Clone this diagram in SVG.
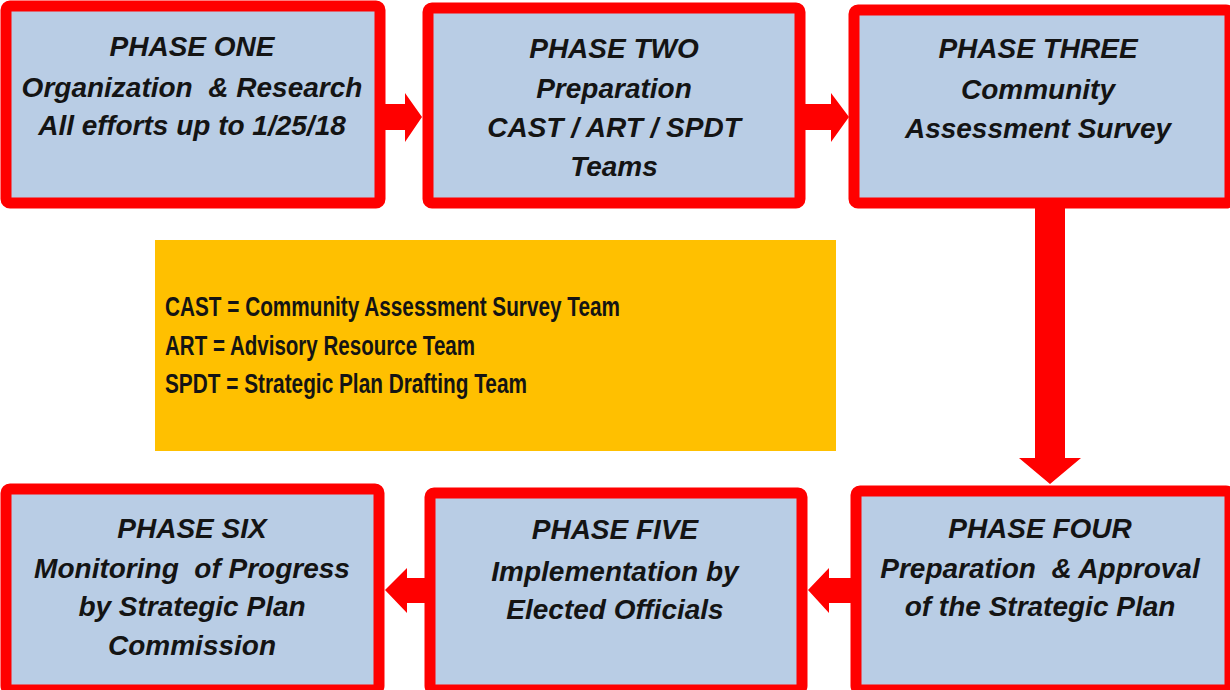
<svg xmlns="http://www.w3.org/2000/svg" width="1230" height="690" viewBox="0 0 1230 690">
<style>
.box{fill:#B9CDE5;stroke:#FF0000;stroke-width:11;}
.t{font-family:"Liberation Sans",Arial,sans-serif;font-weight:bold;font-style:italic;font-size:28px;fill:#141414;text-anchor:middle;}
.leg{font-family:"Liberation Sans",Arial,sans-serif;font-weight:bold;font-size:27px;fill:#141414;}
.arr{fill:#FF0000;}
</style>
<rect width="1230" height="690" fill="#FFFFFF"/>
<g id="connectors">
<polygon class="arr" points="383,104 405,104 405,93 422,117 405,142 405,130 383,130"/>
<polygon class="arr" points="803,104 831,104 831,93 849,117 831,142 831,130 803,130"/>
<polygon class="arr" points="1035,205 1065,205 1065,458 1081,458 1050,484 1019,458 1035,458"/>
<polygon class="arr" points="852,578 829,578 829,568 808,590 829,613 829,603 852,603"/>
<polygon class="arr" points="426,578 407,578 407,568 385,590 407,613 407,603 426,603"/>
</g>
<g id="legend">
<rect x="155" y="240" width="681" height="211" fill="#FFC000"/>
<text class="leg" x="165" y="316" textLength="455" lengthAdjust="spacingAndGlyphs">CAST = Community Assessment Survey Team</text>
<text class="leg" x="165" y="355" textLength="310" lengthAdjust="spacingAndGlyphs">ART = Advisory Resource Team</text>
<text class="leg" x="165" y="393" textLength="362" lengthAdjust="spacingAndGlyphs">SPDT = Strategic Plan Drafting Team</text>
</g>
<g id="phase1">
<rect class="box" x="6" y="6" width="374" height="197" rx="4"/>
<text class="t" x="192" y="56">PHASE ONE</text>
<text class="t" x="192" y="97">Organization&#160; &amp; Research</text>
<text class="t" x="192" y="135">All efforts up to 1/25/18</text>
</g>
<g id="phase2">
<rect class="box" x="428" y="8" width="372" height="195" rx="4"/>
<text class="t" x="614" y="58">PHASE TWO</text>
<text class="t" x="614" y="98">Preparation</text>
<text class="t" x="614" y="137">CAST / ART / SPDT</text>
<text class="t" x="614" y="176">Teams</text>
</g>
<g id="phase3">
<rect class="box" x="854" y="10" width="376" height="193" rx="4"/>
<text class="t" x="1038" y="58">PHASE THREE</text>
<text class="t" x="1038" y="99">Community</text>
<text class="t" x="1038" y="138">Assessment Survey</text>
</g>
<g id="phase4">
<rect class="box" x="856" y="491" width="374" height="199" rx="4"/>
<text class="t" x="1040" y="538">PHASE FOUR</text>
<text class="t" x="1040" y="578">Preparation&#160; &amp; Approval</text>
<text class="t" x="1040" y="616">of the Strategic Plan</text>
</g>
<g id="phase5">
<rect class="box" x="430" y="493" width="372" height="197" rx="4"/>
<text class="t" x="615" y="539">PHASE FIVE</text>
<text class="t" x="615" y="581">Implementation by</text>
<text class="t" x="615" y="619">Elected Officials</text>
</g>
<g id="phase6">
<rect class="box" x="6" y="489" width="373" height="201" rx="4"/>
<text class="t" x="192" y="538">PHASE SIX</text>
<text class="t" x="192" y="578">Monitoring&#160; of Progress</text>
<text class="t" x="192" y="616">by Strategic Plan</text>
<text class="t" x="192" y="655">Commission</text>
</g>
</svg>
